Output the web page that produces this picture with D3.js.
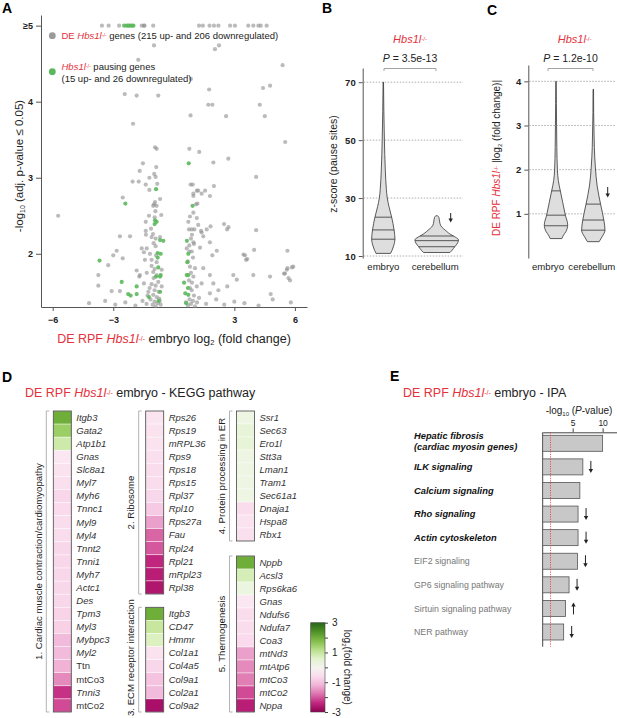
<!DOCTYPE html>
<html>
<head>
<meta charset="utf-8">
<script src="https://cdnjs.cloudflare.com/ajax/libs/d3/7.8.5/d3.min.js"></script>
<style>
body { margin: 0; background: #fff; }
svg { display: block; font-family: "Liberation Sans", Arial, sans-serif; }
</style>
</head>
<body>
<div class="canvas"></div>
<script>
const width = 617, height = 718
const RED = '#e4313b'

// ---- A: volcano (log2 FC, -log10 adj p; 5 = capped "≥5") ----
const greyGenes = [
  [-3.56,5],[-3.23,5],[-2.71,5],[-1.59,5],[-1.48,5],[-1.45,5],[-1.02,5],[1.25,5],[1.44,5],[1.77,5],[1.99,5],[2.21,5],
  [2.79,5],[3.03,5],[3.69,5],[3.94,5],[4.19,5],[4.31,5],[4.6,5],
  [-0.98,4.74],[2.04,4.69],[2.24,4.74],[-1.76,4.55],[5.39,4.48],[0.85,4.30],[-2.43,4.10],[-1.84,4.08],[-0.77,4.08],
  [1.75,4.16],[4.42,4.18],[4.77,4.21],[1.71,3.96],[1.91,3.96],[4.26,3.96],[-2.02,3.71],[0.83,3.82],[2.59,3.81],
  [4.51,3.81],[5.52,3.47],[-0.93,3.40],[-0.85,3.38],[0.77,3.38],[1.26,3.34],[-1.53,3.19],[1.96,3.20],[2.70,3.25],
  [-0.87,3.14],[-1.69,3.09],[-2.04,2.95],[-1.74,2.95],[-1.21,3.00],[-0.97,3.05],[-0.90,3.01],[4.08,3.01],[-1.39,2.91],
  [-0.82,2.92],[0.83,2.91],[0.94,2.91],[1.99,2.89],[-1.21,2.84],[1.55,2.83],[1.14,2.83],[1.38,2.79],[0.97,2.79],
  [1.21,2.83],[1.79,2.76],[-2.53,2.74],[0.97,2.76],[1.17,2.66],[1.10,2.65],[-0.93,2.68],[-0.98,2.65],[-0.85,2.63],
  [-1.02,2.63],[-0.91,2.56],[-0.68,2.72],[-0.62,2.51],[-1.23,2.50],[-0.95,2.48],[-5.73,2.50],[0.72,2.42],[0.80,2.49],
  [0.97,2.54],[0.75,2.32],[0.89,2.32],[1.02,2.32],[1.14,2.47],[1.21,2.38],[1.63,2.32],[1.35,2.30],[1.82,2.36],
  [2.49,2.39],[2.71,2.35],[2.64,2.32],[4.08,2.31],[-2.67,2.23],[-2.17,2.23],[-1.39,2.42],[-1.39,2.30],[-1.38,2.25],
  [-1.13,2.33],[-1.10,2.22],[-1.03,2.26],[-0.90,2.20],[-0.68,2.22],[0.77,2.11],[1.00,2.13],[0.97,2.15],[1.30,2.08],
  [1.79,2.15],[2.13,2.04],[1.91,1.98],[1.46,2.23],[1.38,2.28],[-2.83,2.04],[-3.00,1.98],[-3.25,1.85],[-2.53,1.94],
  [-3.74,1.72],[-3.74,1.58],[-1.59,2.07],[-1.48,2.02],[-1.34,2.07],[-1.18,2.00],[-1.43,1.92],[-1.10,1.92],[-0.88,1.98],
  [-0.85,1.89],[-0.60,1.79],[0.64,2.07],[0.77,2.03],[0.89,2.03],[0.80,1.83],[1.05,1.81],[1.46,1.81],[0.97,1.70],
  [-1.02,1.76],[-0.85,1.72],[-1.68,1.72],[2.95,1.72],[3.94,1.72],[4.77,1.70],[5.68,1.68],[-1.84,1.78],[1.79,1.72],
  [3.45,1.99],[3.58,1.92],[3.98,2.05],[5.63,2.04],[5.85,1.82],[5.60,1.79],[5.46,1.74],[-3.08,1.51],[-2.67,1.51],
  [-1.71,1.70],[-1.34,1.75],[-1.48,1.61],[-1.26,1.50],[-1.02,1.46],[-0.85,1.43],[-0.60,1.57],[-0.77,1.63],[0.89,1.52],
  [1.14,1.57],[1.38,1.61],[1.79,1.48],[2.21,1.52],[1.96,1.61],[2.65,1.57],[3.12,1.66],[3.53,1.98],[3.64,1.93],
  [4.80,1.47],[5.51,1.74],[5.63,1.81],[5.92,1.83],[5.76,1.65],
  [-4.2,1.35],[-3.4,1.38],[-2.9,1.33],[-2.4,1.36],[-1.9,1.32],[-1.55,1.38],[-1.35,1.34],[-1.15,1.40],[-1.05,1.33],
  [-0.95,1.37],[-0.9,1.31],[-0.8,1.35],[-0.72,1.41],[-0.65,1.33],[-1.2,1.55],[-1.1,1.6],[-0.95,1.52],[-0.9,1.58],
  [-0.75,1.5],[-0.7,1.38],[0.6,1.36],[0.7,1.32],[0.78,1.4],[0.85,1.34],[0.95,1.38],[1.05,1.31],[1.15,1.36],
  [1.25,1.42],[0.8,1.55],[0.9,1.62],[1.0,1.45],[0.75,1.65],[1.6,1.34],[2.1,1.4],[2.5,1.33],[3.0,1.37],[3.5,1.35],
  [4.2,1.32],[4.9,1.4],[5.8,1.36],[-1.3,1.45],[-1.0,1.68],[-0.95,1.8],[-1.1,1.84],[0.85,1.75],[0.7,1.9],[0.95,1.95],
  [-0.9,2.1],[-1.0,2.14],[0.85,2.2],[0.9,2.25]
]
const pausingGenes = [
  [-2.46,5],[-2.33,5],[-2.25,5],[-2.17,5],[-2.08,5],[-2.0,5],
  [0.74,3.19],[-0.88,2.85],[-2.40,2.66],[0.93,2.63],[-0.93,2.44],[-0.85,2.42],[-0.95,2.39],[-0.68,2.18],[-0.52,2.17],
  [0.65,2.17],[-3.68,1.91],[-0.80,2.01],[-0.65,2.00],[-0.77,1.82],[0.72,2.00],[0.67,1.89],[0.72,1.72],[-0.68,1.70],
  [-2.58,1.63],[-2.26,1.47],[-2.14,1.45],[-1.84,1.57],[-1.84,1.47],[-1.23,1.43],[-0.68,1.50],[-0.88,1.70],[-0.65,1.72],
  [0.64,1.72],[0.51,1.62],[0.57,1.48],[0.72,1.46],[0.7,1.55],[-0.75,1.38],[0.62,1.35],[-0.8,1.95]
]
const volcanoXTicks = [-6, -3, 3, 6]
const volcanoYTicks = [2, 3, 4, 5]

// ---- B / C: violins (value, half-density) ----
const groups = ['embryo', 'cerebellum']
const zEmbryoV = [70, 60, 50, 40, 33, 30, 27, 23.4, 19, 15.8, 13.5, 12, 10.9]
const zEmbryoD = [0.01, 0.025, 0.05, 0.09, 0.14, 0.18, 0.26, 0.38, 0.49, 0.53, 0.47, 0.4, 0.33]
const zEmbryoQ = [15.8, 19.0, 23.4]
const zCerebV = [23.9, 23.3, 22, 20.5, 19.5, 18.5, 17.5, 16.5, 15.6, 14.5, 13.2, 12, 11.2]
const zCerebD = [0.04, 0.1, 0.13, 0.18, 0.3, 0.45, 0.62, 0.85, 0.99, 0.95, 0.82, 0.7, 0.6]
const zCerebQ = [13.2, 15.3, 16.9]
const zTicks = [10, 30, 50, 70]
const zP = '3.5e-13'

const fcEmbryoV = [4.0, 3.5, 3.0, 2.5, 2.0, 1.75, 1.52, 1.25, 0.97, 0.75, 0.6, 0.5, 0.44]
const fcEmbryoD = [0.02, 0.03, 0.05, 0.07, 0.12, 0.2, 0.37, 0.58, 0.8, 1.0, 0.85, 0.6, 0.5]
const fcEmbryoQ = [0.73, 0.97, 1.52]
const fcCerebV = [3.82, 3.3, 3.0, 2.5, 2.08, 1.63, 1.22, 0.86, 0.63, 0.48, 0.37]
const fcCerebD = [0.02, 0.03, 0.05, 0.09, 0.17, 0.33, 0.62, 0.9, 1.0, 0.75, 0.5]
const fcCerebQ = [0.63, 0.86, 1.22]
const fcTicks = [1, 2, 3, 4]
const fcP = '1.2e-10'

// ---- D: KEGG heatmap (log2 fold change) ----
const cardiacGenes = ['Itgb3','Gata2','Atp1b1','Gnas','Slc8a1','Myl7','Myh6','Tnnc1','Myl9','Myl4','Tnnt2','Tnni1','Myh7','Actc1','Des','Tpm3','Myl3','Mybpc3','Myl2','Ttn','mtCo3','Tnni3','mtCo2']
const cardiacFC = [2.0, 1.5, 0.9, -0.4, -0.5, -0.55, -0.7, -0.65, -0.6, -0.6, -0.7, -0.7, -0.7, -0.7, -0.7, -0.75, -0.8, -1.1, -1.1, -1.2, -1.6, -2.3, -2.1]
const ribosomeGenes = ['Rps26','Rps19','mRPL36','Rps9','Rps18','Rps15','Rpl37','Rpl10','Rps27a','Fau','Rpl24','Rpl21','mRpl23','Rpl38']
const ribosomeFC = [-0.45, -0.5, -0.5, -0.55, -0.6, -0.6, -0.7, -0.9, -1.4, -1.9, -2.0, -2.4, -2.5, -2.6]
const ecmGenes = ['Itgb3','CD47','Hmmr','Col1a1','Col4a5','Col9a1','Col2a1','Col9a2']
const ecmFC = [2.0, 1.0, 0.7, -0.5, -0.7, -1.0, -1.1, -2.7]
const erGenes = ['Ssr1','Sec63','Ero1l','Stt3a','Lman1','Tram1','Sec61a1','Dnaja1','Hspa8','Rbx1']
const erFC = [0.3, 0.45, 0.45, 0.3, 0.3, 0.3, 0.3, -0.6, -0.5, -0.55]
const thermoGenes = ['Nppb','Acsl3','Rps6ka6','Gnas','Ndufs6','Ndufa7','Coa3','mtNd3','mtAtp6','mtCo3','mtCo2','Nppa']
const thermoFC = [2.0, 0.8, 0.35, -0.4, -0.6, -0.6, -0.65, -1.4, -1.6, -1.7, -2.1, -2.5]
const uprightCardiac = ['Ttn', 'mtCo3', 'mtCo2']
const colorTicks = [-3, -2, -1, 0, 1, 2, 3]

// ---- E: IPA ----
const ipaPathways = ['Hepatic fibrosis|(cardiac myosin genes)','ILK signaling','Calcium signaling','Rho signaling','Actin cytoskeleton','EIF2 signaling','GP6 signaling pathway','Sirtuin signaling pathway','NER pathway']
const ipaLogP = [10.0, 6.7, 6.2, 5.9, 5.9, 5.8, 4.4, 3.8, 3.5]
const ipaDirection = [null, 'down', null, 'down', 'down', 'down', 'down', 'up', 'down']
const ipaHighlighted = 5
const ipaTicks = [5, 10]

// ---------------------------------------------------------------
const svg = d3.select('.canvas').append('svg').attr('width', width).attr('height', height)

function rich(g, x, y, parts, size, anchor) {
  const t = g.append('text').attr('x', x).attr('y', y).attr('font-size', size).attr('fill', '#222')
    .attr('text-anchor', anchor || 'start')
  parts.forEach(p => {
    const s = t.append('tspan').text(p.t)
    if (p.c) s.attr('fill', p.c)
    if (p.i) s.attr('font-style', 'italic')
    if (p.b) s.attr('font-weight', 'bold')
    if (p.sup) s.attr('baseline-shift', '35%').attr('font-size', size * 0.55)
    if (p.sub) s.attr('baseline-shift', '-25%').attr('font-size', size * 0.6)
  })
  return t
}
const hbs = [{ t: 'Hbs1l', c: RED, i: 1 }, { t: '-/-', c: RED, sup: 1 }]

function styleAxis(g, size) {
  g.select('.domain').attr('stroke', '#555')
  g.selectAll('.tick line').attr('stroke', '#555')
  g.selectAll('.tick text').attr('font-size', size).attr('font-weight', 'bold').attr('fill', '#222')
  g.attr('font-family', null)
}

function arrow(g, x, y1, y2) {
  const dir = y2 > y1 ? 1 : -1
  g.append('line').attr('x1', x).attr('x2', x).attr('y1', y1).attr('y2', y2 - dir * 3)
    .attr('stroke', '#222').attr('stroke-width', 1)
  g.append('path').attr('d', `M${x - 2.2},${y2 - dir * 4}L${x + 2.2},${y2 - dir * 4}L${x},${y2}Z`).attr('fill', '#222')
}

// panel letters
;[['A', 2, 13], ['B', 322, 13], ['C', 487, 15], ['D', 2, 382], ['E', 390, 381]].forEach(([l, x, y]) => {
  svg.append('text').attr('x', x).attr('y', y).attr('font-size', 14).attr('font-weight', 'bold').text(l)
})

// ---------------- A ----------------
const xA = d3.scaleLinear().domain([-6.58, 6.6]).range([41, 307])
const yA = d3.scaleLinear().domain([1.3, 5.14]).range([307, 15])
const gA = svg.append('g')

const xAxisA = gA.append('g').attr('transform', `translate(0,${yA(1.3)})`)
  .call(d3.axisBottom(xA).tickValues(volcanoXTicks).tickSize(4).tickSizeOuter(0).tickPadding(6))
styleAxis(xAxisA, 9)
const yAxisA = gA.append('g').attr('transform', `translate(${xA.range()[0]},0)`)
  .call(d3.axisLeft(yA).tickValues(volcanoYTicks).tickSize(5).tickSizeOuter(0).tickPadding(3)
    .tickFormat(d => d === 5 ? '≥5' : d))
styleAxis(yAxisA, 9)

gA.append('g').selectAll('circle').data(greyGenes).join('circle')
  .attr('cx', d => xA(d[0])).attr('cy', d => yA(d[1])).attr('r', 2.1)
  .attr('fill', '#8e8e8e').attr('fill-opacity', 0.6)
gA.append('g').selectAll('circle').data(pausingGenes).join('circle')
  .attr('cx', d => xA(d[0])).attr('cy', d => yA(d[1])).attr('r', 2.1)
  .attr('fill', '#5cb85c').attr('fill-opacity', 0.9)

// legend
gA.append('circle').attr('cx', 52.3).attr('cy', 35.7).attr('r', 3.4).attr('fill', '#9a9a9a')
rich(gA, 61.5, 39, [{ t: 'DE ', c: RED }, ...hbs, { t: ' genes (215 up- and 206 downregulated)' }], 9.5)
gA.append('circle').attr('cx', 52.3).attr('cy', 71.7).attr('r', 3.4).attr('fill', '#5cb85c')
rich(gA, 61.5, 70, [...hbs, { t: ' pausing genes' }], 9.5)
rich(gA, 61.5, 82, [{ t: '(15 up- and 26 downregulated)' }], 9.5)

rich(gA, 174, 343, [{ t: 'DE RPF ', c: RED }, ...hbs, { t: ' embryo log' }, { t: '2', sub: 1 }, { t: ' (fold change)' }], 12.5, 'middle')
rich(gA, 0, 0, [{ t: '-log' }, { t: '10', sub: 1 }, { t: ' (adj. p-value ≤ 0.05)' }], 11.5, 'middle')
  .attr('transform', 'translate(23,166) rotate(-90)')

// ---------------- B & C violins ----------------
function violinPanel(cfg) {
  const g = svg.append('g')
  const y = d3.scaleLinear().domain(cfg.domain).range(cfg.range)
  const x = d3.scalePoint().domain(groups).range(cfg.xr)
  const ax = g.append('g').attr('transform', `translate(${cfg.axisX},0)`)
    .call(d3.axisLeft(y).tickValues(cfg.ticks).tickSize(4).tickSizeOuter(0).tickPadding(3).tickFormat(d3.format('d')))
  styleAxis(ax, 9.5)
  g.append('g').selectAll('line').data(cfg.ticks).join('line')
    .attr('x1', cfg.axisX + 1).attr('x2', cfg.gridEnd).attr('y1', d => y(d)).attr('y2', d => y(d))
    .attr('stroke', '#999').attr('stroke-width', 0.8).attr('stroke-dasharray', '1.5,1.5')

  cfg.violins.forEach((v, k) => {
    const cx = x(groups[k])
    const pts = v.vals.map((z, i) => ({ z, w: v.dens[i] }))
    const area = d3.area().y(d => y(d.z)).x0(d => cx - d.w * cfg.wPx).x1(d => cx + d.w * cfg.wPx)
      .curve(d3.curveMonotoneY)
    g.append('path').datum(pts).attr('d', area).attr('fill', '#dedede').attr('stroke', '#333').attr('stroke-width', 0.8)
    const wAt = d3.scaleLinear().domain(v.vals).range(v.dens)
    v.q.forEach(q => {
      const w = wAt(q) * cfg.wPx
      g.append('line').attr('x1', cx - w).attr('x2', cx + w).attr('y1', y(q)).attr('y2', y(q))
        .attr('stroke', '#333').attr('stroke-width', 0.8)
    })
    g.append('text').attr('x', cx + cfg.labelDx[k]).attr('y', cfg.labelY).attr('text-anchor', 'middle')
      .attr('font-size', 9.6).attr('fill', '#222').text(groups[k])
  })

  rich(g, d3.mean(cfg.xr), 43, hbs, 11, 'middle')
  rich(g, d3.mean(cfg.br), 62, [{ t: 'P', i: 1 }, { t: ' = ' + cfg.p }], 10.5, 'middle')
  g.append('path').attr('d', `M${cfg.br[0]},71V68.5H${cfg.br[1]}V71`).attr('fill', 'none')
    .attr('stroke', '#999').attr('stroke-width', 0.9)
  arrow(g, cfg.arrow[0], cfg.arrow[1], cfg.arrow[2])
  return g
}

violinPanel({
  domain: [9.31, 74.9], range: [258, 68], xr: [383.3, 436.7], axisX: 362.7, gridEnd: 463, ticks: zTicks,
  wPx: 22, labelY: 270, labelDx: [0, -1.5], p: zP, br: [384, 436], arrow: [450.7, 213, 222.5],
  violins: [{ vals: zEmbryoV, dens: zEmbryoD, q: zEmbryoQ }, { vals: zCerebV, dens: zCerebD, q: zCerebQ }]
})
rich(svg, 0, 0, [{ t: 'z-score (pause sites)' }], 10.5, 'middle').attr('transform', 'translate(337,164) rotate(-90)')

violinPanel({
  domain: [0, 4.37], range: [258, 65], xr: [556, 593.3], axisX: 528.3, gridEnd: 616, ticks: fcTicks,
  wPx: 11.7, labelY: 270, labelDx: [-8, -1.5], p: fcP, br: [548, 593], arrow: [607.7, 187, 197.5],
  violins: [{ vals: fcEmbryoV, dens: fcEmbryoD, q: fcEmbryoQ }, { vals: fcCerebV, dens: fcCerebD, q: fcCerebQ }]
})
rich(svg, 0, 0, [{ t: 'DE RPF ', c: RED }, ...hbs, { t: ' |log' }, { t: '2', sub: 1 }, { t: ' (fold change)|' }], 10, 'middle')
  .attr('transform', 'translate(500,158) rotate(-90)')

// ---------------- D heatmap ----------------
const gD = svg.append('g')
rich(gD, 25, 396.5, [{ t: 'DE RPF ', c: RED }, ...hbs, { t: ' embryo - KEGG pathway' }], 12.5)

const color = d3.scaleSequential(d3.interpolatePiYG).domain([-3, 3])
const blocks = [
  { title: '1. Cardiac muscle contraction/cardiomyopathy', genes: cardiacGenes, fc: cardiacFC, x: 53.3, y0: 411, y1: 712, upright: uprightCardiac },
  { title: '2. Ribosome', genes: ribosomeGenes, fc: ribosomeFC, x: 145.7, y0: 411, y1: 594 },
  { title: '3. ECM receptor interaction', genes: ecmGenes, fc: ecmFC, x: 145.7, y0: 607.3, y1: 712 },
  { title: '4. Protein processing in ER', genes: erGenes, fc: erFC, x: 236.5, y0: 411, y1: 541 },
  { title: '5. Thermogenesis', genes: thermoGenes, fc: thermoFC, x: 236.5, y0: 556, y1: 712 }
]
const cellW = 18
blocks.forEach(b => {
  const y = d3.scaleBand().domain(b.genes).range([b.y0, b.y1])
  const g = gD.append('g')
  g.selectAll('rect').data(b.genes).join('rect')
    .attr('x', b.x).attr('y', d => y(d)).attr('width', cellW).attr('height', y.bandwidth())
    .attr('fill', (d, i) => color(b.fc[i])).attr('stroke', '#fff').attr('stroke-width', 0.6).attr('stroke-opacity', 0.7)
  g.append('rect').attr('x', b.x).attr('y', b.y0).attr('width', cellW).attr('height', b.y1 - b.y0)
    .attr('fill', 'none').attr('stroke', '#444').attr('stroke-width', 0.8)
  g.selectAll('text').data(b.genes).join('text')
    .attr('x', b.x + cellW + 5).attr('y', d => y(d) + y.bandwidth() / 2 + 3.3)
    .attr('font-size', 9.5).attr('fill', '#333')
    .attr('font-style', d => (b.upright || []).includes(d) ? 'normal' : 'italic')
    .text(d => d)
  const bx = b.x - 7
  g.append('path').attr('d', `M${bx + 3},${b.y0}H${bx}V${b.y1}H${bx + 3}`).attr('fill', 'none')
    .attr('stroke', '#aaa').attr('stroke-width', 0.9)
  const lbl = g.append('text').attr('font-size', 9.6).attr('fill', '#222').attr('text-anchor', 'middle')
    .attr('transform', `translate(${bx - 4.5},${(b.y0 + b.y1) / 2}) rotate(-90)`).text(b.title)
  // keep the rotated title inside the picture
  const half = lbl.node().getComputedTextLength() / 2
  const cy = Math.min((b.y0 + b.y1) / 2, height - 2 - half)
  lbl.attr('transform', `translate(${bx - 4.5},${cy}) rotate(-90)`)
})

// colour bar
const cbY = d3.scaleLinear().domain([-3, 3]).range([712, 622.7])
const grad = svg.append('defs').append('linearGradient').attr('id', 'cb')
  .attr('x1', 0).attr('x2', 0).attr('y1', 1).attr('y2', 0)
d3.range(0, 1.001, 0.1).forEach(t => {
  grad.append('stop').attr('offset', t).attr('stop-color', color(-3 + 6 * t))
})
gD.append('rect').attr('x', 310.7).attr('y', cbY(3)).attr('width', 14.3).attr('height', cbY(-3) - cbY(3))
  .attr('fill', 'url(#cb)').attr('stroke', '#444').attr('stroke-width', 0.6)
const cbAxis = gD.append('g').attr('transform', 'translate(325,0)')
  .call(d3.axisRight(cbY).tickValues(colorTicks).tickSize(3).tickSizeOuter(0).tickPadding(4)
    .tickFormat(d => Math.abs(d) % 2 === 1 ? d : ''))
cbAxis.select('.domain').remove()
cbAxis.selectAll('.tick line').attr('stroke', '#444')
cbAxis.selectAll('.tick text').attr('font-size', 10).attr('fill', '#222')
cbAxis.attr('font-family', null)
rich(gD, 0, 0, [{ t: 'log' }, { t: '2', sub: 1 }, { t: '(fold change)' }], 10, 'middle')
  .attr('transform', `translate(344,${cbY(0)}) rotate(90)`)

// ---------------- E IPA ----------------
const gE = svg.append('g')
rich(gE, 403, 396.5, [{ t: 'DE RPF ', c: RED }, ...hbs, { t: ' embryo - IPA' }], 12.5)
const xE = d3.scaleLinear().domain([0, 12.4]).range([542.7, 617])
const yE = d3.scalePoint().domain(ipaPathways).range([443.3, 632])
const axE = gE.append('g').attr('transform', 'translate(0,432.3)')
  .call(d3.axisTop(xE).tickValues(ipaTicks).tickSize(4).tickSizeOuter(0).tickPadding(2))
axE.select('.domain').attr('stroke', '#444')
axE.selectAll('.tick line').attr('stroke', '#444')
axE.selectAll('.tick text').attr('font-size', 8.5).attr('fill', '#222')
axE.attr('font-family', null)
gE.append('line').attr('x1', xE(0)).attr('x2', xE(0)).attr('y1', 432.3).attr('y2', 646.7).attr('stroke', '#444')
rich(gE, 579, 414, [{ t: '-log' }, { t: '10', sub: 1 }, { t: ' (' }, { t: 'P', i: 1 }, { t: '-value)' }], 10, 'middle')

const barH = 16
gE.selectAll('rect.bar').data(ipaPathways).join('rect').attr('class', 'bar')
  .attr('x', xE(0)).attr('y', d => yE(d) - barH / 2)
  .attr('width', (d, i) => xE(ipaLogP[i]) - xE(0)).attr('height', barH)
  .attr('fill', '#c8c8c8').attr('stroke', '#555').attr('stroke-width', 0.8)
gE.append('line').attr('x1', xE(1.3)).attr('x2', xE(1.3)).attr('y1', 432.3).attr('y2', 646.7)
  .attr('stroke', RED).attr('stroke-width', 0.8).attr('stroke-dasharray', '1.2,1.2')

ipaPathways.forEach((p, i) => {
  const lines = p.split('|')
  const hl = i < ipaHighlighted
  const t = gE.append('text').attr('x', 414).attr('font-size', hl ? 9.3 : 8.8)
    .attr('font-weight', hl ? 'bold' : 'normal').attr('font-style', hl ? 'italic' : 'normal')
    .attr('fill', hl ? '#111' : '#777')
  lines.forEach((l, k) => {
    t.append('tspan').attr('x', 414).attr('y', yE(p) + 3.2 - (lines.length - 1) * 7.5 + k * 11).text(l)
  })
  if (ipaDirection[i]) {
    const ax = xE(ipaLogP[i]) + 8
    const c = yE(p)
    if (ipaDirection[i] === 'down') arrow(gE, ax, c - 6, c + 6)
    else arrow(gE, ax, c + 6, c - 6)
  }
})
</script>
</body>
</html>
